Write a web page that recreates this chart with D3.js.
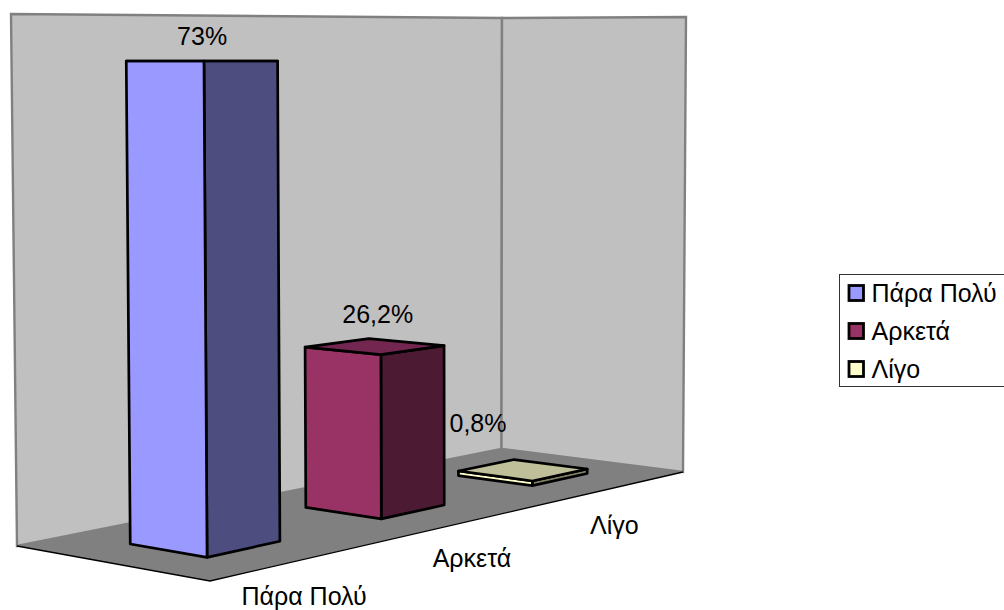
<!DOCTYPE html>
<html lang="el">
<head>
<meta charset="utf-8">
<title>Πάρα Πολύ, Αρκετά, Λίγο</title>
<script src="https://cdn.jsdelivr.net/npm/d3@7/dist/d3.min.js"></script>
<style>
  html, body { margin: 0; padding: 0; background: #fff; overflow: hidden; }
  svg { display: block; }
  text { font-family: "Liberation Sans", Arial, sans-serif; font-size: 25px; fill: #000; }
</style>
</head>
<body>
<svg id="chart" width="1004" height="610"></svg>
<script>
const categories = ["Πάρα Πολύ", "Αρκετά", "Λίγο"];
const values = [73, 26.2, 0.8];
const valueLabels = ["73%", "26,2%", "0,8%"];

const frontColors = ["#9999FF", "#993366", "#FFFFCC"];
const sideColors = ["#4D4D80", "#4D1A33", "#808066"];
const topColors = ["#73739F", "#732650", "#BFBF99"];

// Floor corners on screen and the wall tops standing on them.
const floorFront = [210, 581], floorRight = [683, 472], floorBack = [501.5, 449], floorLeft = [17, 546];
const wallTopLeft = [11, 14], wallTopBack = [502, 18], wallTopRight = [686, 17];

// Screen height that the tallest bar reaches (eye level of the 3D view).
const eyeLevelY = 61;
const convergeX = 480;
const convergeRate = 0.0125 / 80;

// Label offsets from the top centre of each bar and from each category's floor edge.
const labelNudgeX = [0, 3, -45];
const labelNudgeY = [-16, -23, -38];
const categoryNudgeX = [0, 0, -3];
const categoryNudgeY = [46, 46, 47];

const svg = d3.select("#chart");

// Homography taking the unit square (u along categories, w along depth) onto the floor.
function floorHomography(p0, p1, p2, p3) {
  const dx1 = p1[0] - p2[0], dx2 = p3[0] - p2[0], sx = p0[0] - p1[0] + p2[0] - p3[0];
  const dy1 = p1[1] - p2[1], dy2 = p3[1] - p2[1], sy = p0[1] - p1[1] + p2[1] - p3[1];
  const den = dx1 * dy2 - dx2 * dy1;
  const g = (sx * dy2 - dx2 * sy) / den, h = (dx1 * sy - sx * dy1) / den;
  const a = p1[0] - p0[0] + g * p1[0], b = p3[0] - p0[0] + h * p3[0], c = p0[0];
  const d = p1[1] - p0[1] + g * p1[1], e = p3[1] - p0[1] + h * p3[1], f = p0[1];
  return (u, w) => {
    const q = g * u + h * w + 1;
    return [(a * u + b * w + c) / q, (d * u + e * w + f) / q];
  };
}
const floorPoint = floorHomography(floorFront, floorRight, floorBack, floorLeft);

const uScale = d3.scaleBand().domain(categories).range([0, 1]).paddingInner(0.6).paddingOuter(0.3);
const wScale = d3.scaleBand().domain(["depth"]).range([0, 1]).paddingInner(0).paddingOuter(0.75);
const riseScale = d3.scaleLinear().domain([0, d3.max(values)]).range([0, 1]);

// Lift a floor position to a given value, with verticals converging downward.
function lift(u, w, v) {
  const [x, y] = floorPoint(u, w);
  return [x + (x - convergeX) * convergeRate * v, y + (eyeLevelY - y) * riseScale(v)];
}

const polygon = d3.line().curve(d3.curveLinearClosed);
const open = d3.line();

// Walls and floor
const walls = svg.append("g");
walls.append("path").attr("d", polygon([floorLeft, wallTopLeft, wallTopBack, floorBack]));
walls.append("path").attr("d", polygon([floorBack, wallTopBack, wallTopRight, floorRight]));
walls.selectAll("path").attr("fill", "#C0C0C0").attr("stroke", "#808080").attr("stroke-width", 2.4);

svg.append("path").attr("d", polygon([floorLeft, floorFront, floorRight, floorBack]))
  .attr("fill", "#808080");
svg.append("path").attr("d", open([floorLeft, floorFront, floorRight]))
  .attr("fill", "none").attr("stroke", "#000").attr("stroke-width", 1.3);

// Bars: front corner at (u0, w0), left corner at (u0, w1), right corner at (u1, w0)
const w0 = wScale("depth"), w1 = w0 + wScale.bandwidth();
const bars = svg.selectAll("g.bar")
  .data(categories.map((c, i) => ({ c, i, v: values[i] })))
  .join("g").attr("class", "bar")
  .attr("stroke", "#000").attr("stroke-width", 2.7).attr("stroke-linejoin", "round");

bars.each(function (d) {
  const u0 = uScale(d.c), u1 = u0 + uScale.bandwidth();
  const g = d3.select(this);
  g.append("path").attr("fill", sideColors[d.i]).attr("d", polygon([
    lift(u0, w0, 0), lift(u1, w0, 0), lift(u1, w0, d.v), lift(u0, w0, d.v)
  ]));
  g.append("path").attr("fill", frontColors[d.i]).attr("d", polygon([
    lift(u0, w1, 0), lift(u0, w0, 0), lift(u0, w0, d.v), lift(u0, w1, d.v)
  ]));
  g.append("path").attr("fill", topColors[d.i]).attr("d", polygon([
    lift(u0, w0, d.v), lift(u1, w0, d.v), lift(u1, w1, d.v), lift(u0, w1, d.v)
  ]));
});

// Value labels above the bars
svg.selectAll("text.value")
  .data(categories)
  .join("text").attr("class", "value")
  .attr("text-anchor", "middle")
  .attr("x", (c, i) => lift(uScale(c) + uScale.bandwidth() / 2, 0.5, values[i])[0] + labelNudgeX[i])
  .attr("y", (c, i) => lift(uScale(c) + uScale.bandwidth() / 2, 0.5, values[i])[1] + labelNudgeY[i])
  .text((c, i) => valueLabels[i]);

// Category labels below the front edge of the floor
svg.selectAll("text.category")
  .data(categories)
  .join("text").attr("class", "category")
  .attr("text-anchor", "middle")
  .attr("x", (c, i) => floorPoint(uScale(c) + uScale.bandwidth() / 2, 0)[0] + categoryNudgeX[i])
  .attr("y", (c, i) => floorPoint(uScale(c) + uScale.bandwidth() / 2, 0)[1] + categoryNudgeY[i])
  .text(c => c);

// Legend, running past the right edge of the page
const legendY = d3.scalePoint().domain(categories).range([302, 378]);
svg.append("rect")
  .attr("x", 839.5).attr("y", 274.5).attr("width", 180).attr("height", 112)
  .attr("fill", "#fff").attr("stroke", "#333").attr("stroke-width", 1);
const legend = svg.selectAll("g.legend").data(categories).join("g").attr("class", "legend");
legend.append("rect")
  .attr("x", 849).attr("y", c => legendY(c) - 16.5)
  .attr("width", 14.5).attr("height", 15)
  .attr("fill", (c, i) => frontColors[i])
  .attr("stroke", "#000").attr("stroke-width", 2.8);
legend.append("text")
  .attr("x", 871.5).attr("y", c => legendY(c))
  .text(c => c);
</script>
</body>
</html>
